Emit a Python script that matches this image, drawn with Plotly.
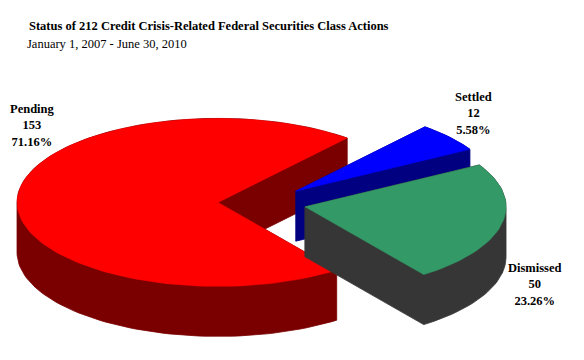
import numpy as np
import plotly.graph_objects as go

# ---- data ----
categories = ["Settled", "Dismissed", "Pending"]   # clockwise order from the first-slice angle
counts = [12, 50, 153]
title_text = "Status of 212 Credit Crisis-Related Federal Securities Class Actions"
subtitle_text = "January 1, 2007 - June 30, 2010"

# ---- style ----
top_colors = {"Settled": "#0000FF", "Dismissed": "#339966", "Pending": "#FF0000"}
side_colors = {"Settled": "#000080", "Dismissed": "#363636", "Pending": "#7A0000"}
label_xy = {"Pending": (32, 125), "Settled": (473, 113), "Dismissed": (535, 284)}
draw_order = ["Pending", "Settled", "Dismissed"]

W, H = 584, 360
OFF = 8                  # page body margin
CX, CY = 262, 203        # pie centre (px)
RA, RB = 201, 84         # ellipse semi-axes
DEPTH = 50               # thickness
EXPLODE = 44             # explosion distance (px along x scale)
START = -50.0            # first slice angle (deg, screen, clockwise from +x)
FONT = "Liberation Serif"
FS = 12.5


def hull(pts):
    pts = sorted(set(pts))
    if len(pts) < 3:
        return pts
    def cross(o, a, b):
        return (a[0]-o[0])*(b[1]-o[1]) - (a[1]-o[1])*(b[0]-o[0])
    lower, upper = [], []
    for p in pts:
        while len(lower) >= 2 and cross(lower[-2], lower[-1], p) <= 0:
            lower.pop()
        lower.append(p)
    for p in reversed(pts):
        while len(upper) >= 2 and cross(upper[-2], upper[-1], p) <= 0:
            upper.pop()
        upper.append(p)
    return lower[:-1] + upper[:-1]


total = float(sum(counts))
angles = {}
a0 = START
for c, v in zip(categories, counts):
    span = v / total * 360.0
    angles[c] = (a0, a0 + span)
    a0 += span

fig = go.Figure()

for c in draw_order:
    t0, t1 = angles[c]
    mid = np.radians((t0 + t1) / 2)
    ax = CX + EXPLODE * np.cos(mid)
    ay = CY + EXPLODE * np.sin(mid) * RB / RA
    n = max(8, int((t1 - t0) / 2))
    ts = np.radians(np.linspace(t0, t1, n + 1))
    arc = [(ax + RA * np.cos(t), ay + RB * np.sin(t)) for t in ts]

    # side walls: union of convex hulls of sub-pieces extruded downwards
    sx, sy = [], []
    k = int(np.ceil((t1 - t0) / 60.0))
    edges = np.linspace(0, n, k + 1).astype(int)
    for i in range(k):
        piece = [(ax, ay)] + arc[edges[i]:edges[i + 1] + 1]
        pts = [(round(x, 3), round(y, 3)) for x, y in piece] + \
              [(round(x, 3), round(y + DEPTH, 3)) for x, y in piece]
        hp = hull(pts)
        sx += [p[0] for p in hp] + [hp[0][0], None]
        sy += [p[1] for p in hp] + [hp[0][1], None]
    fig.add_trace(go.Scatter(x=sx, y=sy, mode="lines", fill="toself",
                             fillcolor=side_colors[c],
                             line=dict(color=side_colors[c], width=0.8),
                             hoverinfo="skip", showlegend=False))

    # top face
    tx = [ax] + [p[0] for p in arc] + [ax]
    ty = [ay] + [p[1] for p in arc] + [ay]
    fig.add_trace(go.Scatter(x=tx, y=ty, mode="lines", fill="toself",
                             fillcolor=top_colors[c],
                             line=dict(color=top_colors[c], width=0.5),
                             name=c, showlegend=False))

# labels
annotations = []
for c, v in zip(categories, counts):
    pct = v / total * 100
    lx, ly = label_xy[c]
    annotations.append(dict(
        x=lx, y=ly, xref="x", yref="y", showarrow=False,
        text=f"<b>{c}</b><br><b>{v}</b><br><b>{pct:.2f}%</b>",
        font=dict(family=FONT, size=FS, color="#000000"),
        align="center", xanchor="center", yanchor="middle"))

annotations.append(dict(x=27, y=26, xref="x", yref="y", showarrow=False,
                        text=f"<b>{title_text}</b>", xanchor="left", yanchor="middle",
                        font=dict(family=FONT, size=FS, color="#000000")))
annotations.append(dict(x=25, y=44, xref="x", yref="y", showarrow=False,
                        text=subtitle_text, xanchor="left", yanchor="middle",
                        font=dict(family=FONT, size=FS, color="#000000")))

fig.update_layout(
    width=W - 2 * OFF, height=H - 2 * OFF, autosize=False,
    margin=dict(l=0, r=0, t=0, b=0),
    paper_bgcolor="white", plot_bgcolor="white",
    xaxis=dict(range=[OFF, W - OFF], visible=False, fixedrange=True),
    yaxis=dict(range=[H - OFF, OFF], visible=False, fixedrange=True),
    annotations=annotations,
)

fig.write_html("out.html")
